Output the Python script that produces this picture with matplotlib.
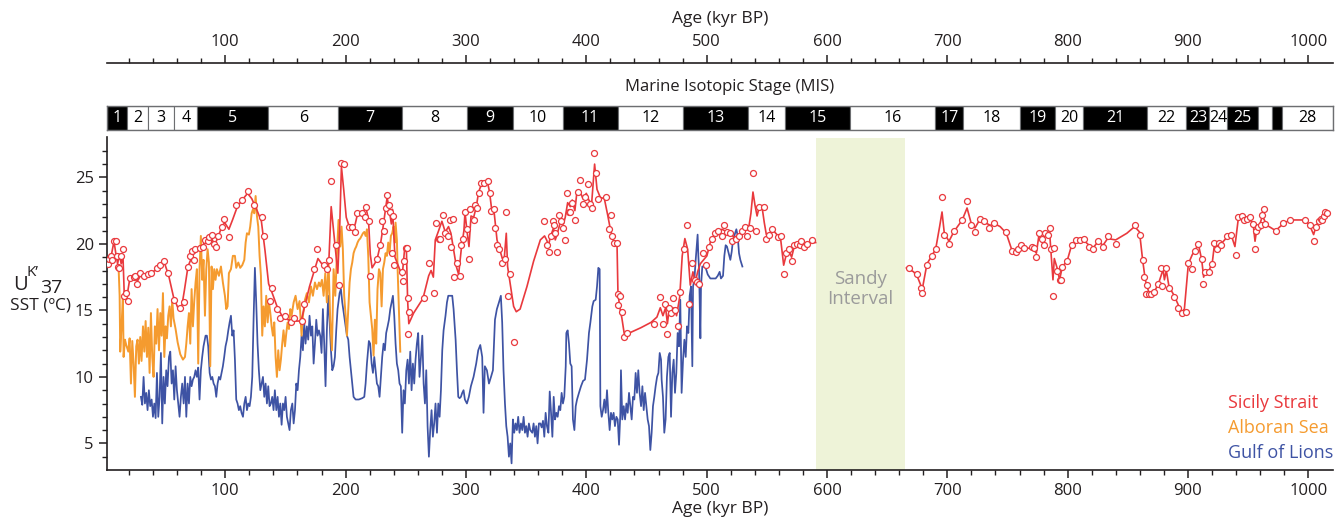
import numpy as np
import matplotlib
matplotlib.use("Agg")
import matplotlib.pyplot as plt

plt.rcParams['font.family'] = ['Open Sans', 'DejaVu Sans']

# ---- data ----
# MIS stage boundaries (kyr BP), labels and fill
mis_edges = [1.7, 18.5, 36, 57.6, 76.7, 135.7, 193.9, 247, 301, 339.3, 380.4, 426,
             480.6, 534.6, 565.4, 619.4, 690, 713.3, 760.7, 789.7, 813, 866.2,
             898.7, 917.8, 932.7, 958.5, 970, 978.4, 1020.5]
mis_labels = ['1', '2', '3', '4', '5', '6', '7', '8', '9', '10', '11', '12', '13', '14',
              '15', '16', '17', '18', '19', '20', '21', '22', '23', '24', '25', '', '', '28']
mis_black = [1, 0, 0, 0, 1, 0, 1, 0, 1, 0, 1, 0, 1, 0, 1, 0, 1, 0, 1, 0, 1, 0, 1, 0, 1, 0, 1, 0]

sandy = (591, 665)

# Sicily Strait UK'37 samples (age, SST)
sicily_pts = np.array([
    [2.2, 18.5], [3, 18.9], [5, 19.1], [5.8, 18.8], [7.2, 20.2], [8.8, 20.2], [10, 19.1], [10.5, 18.3],
    [11.6, 18.2], [13.3, 19.1], [15, 19.6], [15.5, 16.1], [17.1, 16.3], [18.8, 15.7], [20.4, 17.4],
    [23.8, 17.5], [25.2, 17.6], [26.6, 17.0], [29.3, 17.8], [32.1, 17.6], [35.4, 17.7], [38.2, 17.8],
    [43.2, 18.2], [46, 18.4], [48.7, 18.7], [52.3, 17.8], [57.6, 15.8], [62.6, 15.2], [65.3, 15.6],
    [68.6, 18.3], [70.3, 19.1], [72, 19.5], [73.6, 18.8], [74.8, 19.6], [78.6, 19.7], [81.4, 19.8],
    [83.1, 20.3], [85.3, 20.2], [86.4, 20.5], [88.6, 20.7], [90.3, 20.0], [92.5, 19.8], [94.2, 20.6],
    [96.9, 21.3], [99.1, 21.9], [103, 20.5], [109.1, 22.9], [113.5, 23.3], [118.5, 24.0], [123.5, 22.9],
    [130.7, 22.0], [131.8, 20.6], [136.8, 15.7], [138.5, 16.7], [142.9, 15.1], [145.7, 14.4],
    [149.6, 14.6], [154.6, 14.1], [157.3, 14.4], [163.4, 14.2], [165.6, 15.5], [174, 18.1], [176.2, 19.6],
    [181.7, 18.4], [184.5, 18.1], [186.2, 18.8], [188.1, 24.7], [192.2, 19.9], [194.2, 16.9],
    [196.1, 26.1], [198.3, 26.0], [202.5, 21.3], [205.3, 21.3], [207.4, 20.9], [209.4, 22.3],
    [213.6, 22.3], [215.8, 22.0], [217.2, 22.8], [219.1, 21.7], [219.9, 17.6], [226, 18.9], [228.2, 19.9],
    [230.4, 21.7], [232.1, 21.0], [233.2, 22.7], [234.4, 23.7], [235.7, 22.9], [237.1, 22.4],
    [239.3, 22.1], [238.8, 19.3], [240.4, 18.4], [246.8, 17.9], [247.6, 17.2], [248.7, 18.7],
    [249.8, 19.7], [251, 19.7], [251.5, 15.9], [252.6, 14.9], [251.5, 13.2], [265.4, 15.9], [269.3, 18.6],
    [273.1, 16.3], [274.8, 21.6], [277.3, 20.4], [278.6, 20.4], [280.6, 22.2], [282.8, 20.8],
    [284.7, 20.6], [286.4, 21.8], [289.2, 21.9], [287.8, 19.8], [290.3, 17.5], [292.5, 18.6],
    [294.7, 17.6], [296.1, 19.9], [297.5, 20.4], [298.9, 22.4], [300.8, 21.1], [302.5, 18.9],
    [303.6, 22.6], [306.4, 21.8], [307.7, 22.9], [309.1, 22.7], [310.5, 23.8], [312.5, 24.6],
    [315.2, 24.6], [318, 24.7], [319.6, 23.8], [320.8, 22.5], [323, 22.6], [324.4, 21.2], [325.8, 19.9],
    [327.1, 19.6], [329.9, 18.6], [332.7, 18.9], [333.5, 22.4], [335.2, 16.1], [336.8, 17.7],
    [339.6, 12.6], [364.5, 21.7], [367.3, 19.9], [368.7, 19.4], [370.6, 20.6], [372, 21.7], [373.4, 21.4],
    [374.2, 20.8], [375.6, 19.4], [377.3, 22.2], [379, 21.7], [380.3, 21.2], [382.3, 20.3], [384, 23.8],
    [385.6, 22.4], [386.7, 22.4], [388.3, 23.1], [390.3, 21.8], [393.3, 23.9], [395, 24.8], [396.9, 23.0],
    [398.6, 23.5], [401.4, 24.5], [403.3, 23.0], [404.9, 22.7], [406.6, 26.8], [407.7, 25.3],
    [409.4, 23.4], [416, 23.5], [418.9, 21.1], [420.5, 22.2], [421, 20.6], [423.3, 20.1], [425.5, 20.1],
    [426.6, 16.2], [427.7, 16.1], [426, 15.4], [429.3, 14.9], [431.6, 13.0], [433.8, 13.3], [456.5, 14.0],
    [461.5, 16.0], [463.7, 14.0], [465.6, 15.5], [467.1, 13.2], [468.7, 15.2], [470.4, 14.8], [472, 15.9],
    [474, 15.0], [475.9, 13.8], [478.1, 16.4], [480.9, 19.6], [483.7, 21.4], [485.3, 15.5], [488.1, 18.6],
    [490.6, 17.3], [491.9, 17.1], [493.3, 17.0], [497, 19.3], [499.7, 18.4], [501.9, 19.8], [504.1, 20.4],
    [506.9, 20.8], [509.7, 21.0], [512.4, 20.6], [514.7, 21.4], [516.9, 20.9], [519.6, 20.8],
    [521.3, 20.2], [524, 20.4], [526.9, 20.6], [529, 21.0], [531.9, 21.3], [533.5, 20.6], [535.7, 21.2],
    [538.5, 25.3], [540.7, 21.0], [543.5, 22.8], [547.3, 22.8], [549, 20.4], [551.8, 20.7], [554.5, 21.1],
    [559, 20.5], [561.8, 20.6], [564, 17.7], [565.6, 19.3], [568.4, 19.6], [570.6, 18.7], [572.8, 19.9],
    [575.1, 20.0], [577.2, 19.9], [578.4, 20.2], [580.6, 19.8], [583.4, 20.0], [587.8, 20.3],
    [668.2, 18.2], [674.8, 17.7], [678.1, 16.7], [679.2, 16.3], [683.1, 18.4], [687, 19.1], [690.3, 19.6],
    [695.6, 23.5], [697.5, 20.7], [701.4, 20.0], [705.3, 21.0], [712.4, 21.8], [716.4, 23.2], [720, 21.4],
    [723, 20.9], [726.8, 21.9], [730.7, 21.7], [734.4, 21.2], [738.5, 21.6], [749, 20.9], [753.4, 19.5],
    [756.8, 19.4], [759, 19.6], [761.2, 19.9], [764, 19.7], [770.1, 19.8], [772.3, 19.7], [774, 19.0],
    [776.2, 20.8], [778.4, 20.4], [780.6, 19.9], [781.4, 20.8], [783.3, 20.7], [785, 21.2], [786.2, 19.6],
    [787.8, 16.1], [788.9, 19.7], [791.2, 18.0], [793.3, 17.3], [794.5, 17.3], [795.6, 18.3],
    [799.5, 18.7], [803.3, 19.9], [806.6, 20.3], [810.5, 20.3], [813.8, 20.4], [817.8, 19.8],
    [821.1, 19.6], [825.5, 20.2], [829.4, 19.8], [833.2, 20.6], [839.9, 20.0], [855.6, 21.4],
    [860.4, 20.7], [862.3, 18.8], [863.7, 17.5], [865.9, 16.9], [864.8, 16.2], [867.6, 16.2],
    [869.3, 16.2], [871.5, 16.4], [875.4, 17.0], [877.6, 18.2], [881.5, 18.2], [878.7, 16.8],
    [884.2, 16.7], [888.6, 16.0], [892, 15.2], [895, 14.8], [898, 14.9], [900.3, 18.6], [903.6, 18.1],
    [905.9, 19.5], [908.6, 20.0], [911.4, 18.9], [912.5, 17.0], [914.2, 17.9], [917.5, 17.9],
    [920.2, 18.5], [921.9, 20.1], [924.1, 19.6], [925.8, 20.1], [927.5, 19.9], [932.4, 20.6],
    [935.8, 20.7], [940.2, 19.2], [941.8, 22.0], [944.6, 22.1], [946.8, 21.8], [949.1, 21.9],
    [951.2, 22.0], [954, 21.5], [955.7, 19.6], [956.8, 21.0], [958.4, 21.3], [960.7, 21.4], [961.8, 22.2],
    [962.8, 22.6], [964.3, 21.5], [972.8, 21.0], [979, 21.6], [984.5, 21.8], [997.3, 21.8], [1001.1, 21.4],
    [1005, 20.2], [1006.1, 21.3], [1008.6, 21.7], [1010.6, 21.9], [1011.6, 21.8], [1012.7, 22.1],
    [1014.1, 22.4], [1015.5, 22.3]])

# Sicily Strait smoothed curve (nan = gap at the sandy interval)
sicily_curve = np.array([
    [2, 18.7], [5, 19.0], [7.5, 20.2], [9, 19.3], [10.5, 18.5], [12, 19.2], [13.5, 18.5], [15, 19.0],
    [16, 16.3], [18, 15.9], [20.5, 17.3], [25, 17.5], [27, 17.2], [30, 17.7], [38, 17.8], [45, 18.2],
    [49, 18.7], [53, 17.6], [57, 16.0], [61, 15.1], [64, 15.4], [66, 16.5], [69, 18.3], [73, 19.2],
    [78, 19.6], [84, 20.2], [88, 20.6], [91, 19.9], [94, 20.5], [97, 21.3], [99.5, 21.6], [103, 21.1],
    [106, 21.8], [110, 22.8], [114, 23.3], [118.5, 23.8], [122, 23.4], [126, 22.6], [130, 21.7],
    [133, 19.5], [136, 17.0], [139, 16.3], [143, 15.3], [147, 14.6], [152, 14.3], [157, 14.2],
    [163, 14.2], [166, 15.3], [170, 16.8], [175, 18.3], [177, 18.9], [181, 18.4], [184, 18.0],
    [186, 18.6], [188, 22.8], [190.5, 20.5], [193.5, 17.8], [195, 21.0], [196.5, 25.8], [198.5, 24.0],
    [200.5, 22.0], [203, 21.3], [206, 21.1], [208, 21.5], [210, 22.3], [214, 22.4], [217, 22.7],
    [219, 21.8], [220.5, 19.2], [222, 18.2], [226, 18.8], [229, 20.0], [231, 21.2], [233, 22.5],
    [234.5, 23.5], [236, 22.7], [238, 21.5], [239, 22.6], [241, 19.0], [244, 18.3], [247, 17.6],
    [249, 19.6], [250.5, 19.6], [251.5, 15.8], [252.5, 14.0], [256.5, 14.8], [264.3, 15.9], [269, 17.6],
    [271, 18.0], [272.9, 17.5], [274.5, 20.3], [277.3, 21.0], [280, 21.7], [282.8, 20.9], [285.5, 21.3],
    [287.5, 20.8], [289.7, 19.6], [292, 18.3], [293.9, 17.7], [296.1, 19.6], [298.3, 21.0],
    [299.2, 22.4], [300.8, 21.0], [302.5, 19.8], [304.2, 22.1], [306.4, 22.0], [308.6, 22.8],
    [310.5, 23.9], [312.5, 24.4], [316, 24.6], [318, 24.6], [319.6, 23.9], [321.6, 22.4], [323.5, 22.3],
    [325.8, 20.3], [328, 19.6], [330.2, 18.9], [331.9, 19.0], [333.5, 20.8], [334.6, 18.3],
    [337.4, 16.6], [339.6, 15.3], [341.8, 14.9], [345, 15.1], [350.7, 16.8], [356.2, 18.7],
    [361.8, 20.3], [365.3, 20.6], [367, 20.3], [368.7, 19.9], [370, 20.5], [372.8, 21.2], [374.2, 20.3],
    [376, 20.8], [378.3, 21.6], [381, 21.5], [382.5, 22.0], [384.5, 23.1], [386.7, 22.8], [388.3, 23.3],
    [390.5, 22.5], [392.2, 23.9], [395, 23.9], [397.2, 23.4], [400, 23.8], [402.1, 23.3], [404.4, 23.0],
    [406.9, 26.0], [408.9, 24.1], [411.6, 23.5], [415, 23.4], [417.7, 22.2], [420, 21.1], [422.7, 20.2],
    [425.5, 20.1], [426.3, 16.3], [427.7, 15.3], [429.6, 14.4], [431.6, 13.2], [435.7, 13.3],
    [445.4, 13.7], [453.8, 14.1], [458.7, 14.5], [461.5, 15.2], [463.7, 14.6], [465.9, 15.2],
    [467.4, 14.0], [469, 15.2], [471, 14.8], [472.9, 15.2], [475, 14.6], [477.6, 16.0], [479.7, 19.1],
    [481.9, 20.4], [484.2, 19.6], [486.4, 16.9], [488.6, 17.9], [490.6, 17.1], [492.5, 17.9],
    [494.7, 18.5], [497.5, 18.8], [500.2, 19.1], [503, 20.1], [505.8, 20.6], [509.1, 20.8],
    [512.7, 21.1], [516.9, 20.9], [520.2, 20.8], [522.4, 20.5], [525.7, 20.6], [529, 20.9],
    [532.1, 21.0], [534.8, 21.1], [536.8, 22.3], [538.5, 23.9], [540.2, 22.9], [541.9, 22.1],
    [543.5, 22.7], [546, 22.8], [547.9, 21.6], [549.6, 20.7], [551.8, 20.6], [554.5, 21.1],
    [558.4, 20.7], [561.2, 20.6], [564, 18.4], [566.2, 19.2], [568.4, 19.5], [570.6, 19.0],
    [572.8, 19.8], [577.8, 20.0], [582, 19.9], [586.1, 20.1], [590.6, 20.1], [np.nan, np.nan],
    [666, 18.2], [672, 17.9], [675.3, 17.5], [679.2, 16.6], [683.1, 18.5], [687, 19.1], [690.3, 19.6],
    [693.6, 21.3], [695.6, 22.4], [697.5, 20.8], [701.4, 20.2], [705.3, 20.9], [712.4, 21.8],
    [716.4, 22.7], [720, 21.5], [723, 21.2], [726.8, 21.8], [731.5, 21.6], [735.6, 21.4], [739.7, 21.5],
    [743.9, 21.3], [749, 20.8], [753.4, 19.6], [758, 19.5], [761.2, 19.7], [766.2, 19.7], [771.6, 19.6],
    [774, 19.3], [776.2, 20.7], [778.4, 20.3], [780.6, 20.5], [782.8, 20.8], [785, 20.9], [786.2, 19.3],
    [787.8, 17.3], [788.9, 18.9], [791.2, 18.2], [793.3, 17.3], [795.6, 18.3], [799.5, 18.7],
    [803.3, 19.9], [806.6, 20.3], [811.8, 20.4], [817.8, 19.9], [821.1, 19.7], [825.5, 20.2],
    [829.4, 19.9], [833.2, 20.4], [839.9, 20.3], [849.2, 20.8], [855.6, 21.3], [859.7, 20.9],
    [862.3, 18.8], [864.5, 17.3], [867.3, 16.4], [869.3, 16.3], [872, 16.4], [875.4, 17.0],
    [877.6, 17.6], [879.3, 18.1], [880.4, 17.3], [882, 18.0], [884.2, 16.8], [888.6, 16.1], [892, 15.4],
    [895, 14.9], [897, 15.1], [900.3, 18.5], [903.6, 19.2], [905.9, 19.5], [908.6, 20.0], [911.4, 18.8],
    [913, 17.5], [914.8, 18.0], [917.5, 18.0], [920.2, 18.6], [921.9, 19.9], [924.1, 19.8],
    [927.5, 20.0], [932.4, 20.5], [935.8, 20.7], [939, 19.8], [941.8, 21.9], [946.2, 21.9],
    [950.4, 21.9], [954, 21.6], [955.7, 20.2], [957.3, 21.2], [959.5, 21.4], [961.8, 22.1],
    [963.4, 21.8], [965.6, 21.4], [972.8, 21.0], [979, 21.5], [984.5, 21.8], [997.3, 21.8],
    [1001.1, 21.4], [1004.4, 20.7], [1006.7, 21.4], [1009.4, 21.8], [1012.2, 21.9], [1015.5, 22.3]])

# Alboran Sea
alboran = np.array([
    [11.3, 18.3], [12.2, 16.1], [12.7, 11.9], [13.8, 13.8], [14.9, 16.1], [15.5, 11.5], [16.6, 12.8],
    [17.7, 12.4], [19.4, 11.9], [20.5, 12.9], [21.6, 9.5], [22.7, 12.7], [23.8, 11.0], [24.9, 8.5],
    [26, 12.3], [27.1, 12.8], [28.2, 11.0], [29.3, 13.0], [30.4, 11.2], [31.6, 13.8], [32.7, 11.9],
    [33.8, 14.2], [34.9, 11.5], [36, 13.7], [37.1, 10.3], [38.2, 14.8], [39.3, 11.5], [40.4, 10.0],
    [41.5, 13.8], [42.6, 12.5], [43.7, 15.1], [44.9, 12.0], [46, 14.8], [47.1, 13.1], [48.2, 16.3],
    [49.3, 11.5], [50.4, 13.8], [51.5, 12.9], [52.6, 14.6], [53.7, 15.3], [54.8, 13.8], [55.9, 15.8],
    [57, 14.4], [58.7, 13.6], [60.4, 12.6], [62.6, 11.7], [64.8, 11.3], [66.5, 11.5], [67.6, 12.5],
    [68.7, 13.8], [69.8, 14.8], [70.9, 12.5], [72, 16.6], [73.1, 13.8], [74.2, 15.7], [75.3, 17.1],
    [76.4, 18.1], [77.5, 11.0], [78.6, 18.1], [79.7, 20.6], [80.8, 17.3], [81.9, 18.8], [83.1, 14.6],
    [84.2, 18.1], [85.3, 19.6], [86.4, 18.6], [87.5, 10.8], [88.6, 18.3], [89.7, 16.6], [90.8, 18.1],
    [91.9, 17.3], [93.0, 18.1], [94.7, 17.6], [96.4, 18.3], [98.0, 17.1], [99.7, 16.1], [100.8, 15.1],
    [101.9, 15.3], [103, 17.8], [104.7, 18.1], [106.3, 19.1], [108, 19.1], [109.1, 18.2], [110.8, 18.6],
    [112.4, 18.2], [114.1, 18.4], [115.8, 18.8], [116.9, 20.1], [118, 20.8], [119.6, 20.7],
    [120.7, 21.3], [121.9, 22.3], [123, 22.6], [124.1, 22.3], [125.2, 23.6], [126.3, 22.1],
    [127.4, 21.3], [128.5, 19.1], [129.6, 17.6], [130.7, 13.1], [131.8, 15.3], [132.9, 13.8],
    [134.0, 16.1], [135.2, 14.1], [136.3, 15.6], [137.4, 14.8], [138.5, 13.8], [139.6, 13.1],
    [140.7, 14.1], [141.8, 11.5], [142.9, 10.0], [144, 12.0], [145.1, 10.5], [146.2, 11.3],
    [147.3, 12.5], [148.4, 13.5], [149.6, 12.3], [150.7, 13.3], [151.8, 14.1], [152.9, 13.6],
    [154, 15.1], [155.1, 14.6], [156.8, 15.6], [158.4, 16.1], [160.1, 15.1], [161.7, 15.7],
    [163.4, 13.1], [164.5, 14.6], [166.2, 15.8], [167.8, 16.3], [169.5, 15.6], [171.2, 16.8],
    [172.8, 16.1], [174.5, 17.1], [176.2, 16.6], [177.8, 17.1], [178.9, 16.8], [180.3, 17.3],
    [181.7, 16.1], [183.1, 17.8], [184.4, 15.6], [185.8, 18.6], [187.2, 14.3], [188.6, 12.0],
    [190, 18.1], [191.4, 16.1], [192.8, 19.3], [194.1, 21.8], [195.5, 19.8], [196.6, 21.3],
    [197.7, 19.6], [198.8, 16.1], [200, 14.6], [201.1, 13.1], [202.2, 15.1], [203.3, 17.1],
    [204.4, 18.1], [205.5, 18.6], [206.6, 19.3], [207.7, 19.6], [208.8, 19.8], [209.9, 20.1],
    [211, 20.3], [212.1, 20.4], [213.2, 20.6], [214.4, 20.8], [215.5, 20.9], [216.6, 20.6],
    [217.7, 21.1], [218.8, 19.1], [219.9, 15.6], [221, 14.6], [222.1, 13.6], [223.2, 11.6],
    [224.3, 14.3], [225.4, 12.5], [226.5, 16.6], [227.7, 18.1], [228.8, 17.8], [229.9, 15.3],
    [231, 18.1], [232.1, 18.6], [233.2, 19.3], [234.3, 19.1], [235.4, 20.1], [236.5, 19.3],
    [237.6, 20.6], [238.7, 20.8], [239.8, 21.3], [240.9, 20.1], [241.5, 21.6], [242.6, 20.3],
    [243.2, 18.1], [244.3, 15.1], [245.4, 11.9]])

# Gulf of Lions
lions = np.array([
    [29.9, 8.5], [31, 7.9], [32.1, 10.0], [33.2, 8.0], [34.3, 8.8], [35.4, 7.5], [36.5, 9.0], [37.6, 7.8],
    [38.8, 8.3], [39.9, 7.0], [41, 8.0], [42.1, 6.9], [43.2, 10.3], [44.3, 7.0], [45.4, 8.5], [46.5, 11.8],
    [47.6, 6.5], [48.7, 10.0], [49.8, 8.0], [50.9, 10.5], [52, 9.3], [53.2, 11.5], [54.3, 11.9],
    [55.4, 9.5], [56.5, 10.5], [57.6, 8.3], [58.7, 10.8], [59.8, 9.0], [60.9, 8.0], [62.0, 7.0],
    [63.1, 8.5], [64.2, 9.5], [65.4, 8.0], [66.5, 10.0], [67.6, 7.0], [68.7, 9.5], [69.8, 8.0],
    [70.9, 10.0], [72, 9.3], [73.1, 9.8], [74.2, 10.0], [75.3, 10.5], [76.4, 10.0], [77.5, 10.7],
    [78.6, 8.3], [79.7, 10.5], [80.8, 11.5], [81.9, 12.3], [83.6, 13.1], [84.7, 13.1], [85.8, 12.3],
    [87, 10.3], [88.1, 9.8], [89.2, 10.0], [90.3, 9.5], [91.4, 9.3], [92.5, 8.5], [93.6, 9.5],
    [94.7, 10.0], [95.8, 9.8], [96.9, 10.3], [98, 10.8], [99.1, 11.5], [100.2, 12.3], [101.4, 12.8],
    [102.5, 13.5], [103.6, 14.1], [104.7, 14.6], [105.8, 13.1], [106.9, 13.5], [108, 11.3], [109.1, 8.3],
    [110.2, 8.0], [111.3, 7.5], [112.4, 7.8], [113.5, 7.3], [114.7, 7.0], [115.8, 8.0], [116.9, 8.5],
    [118, 7.5], [119.1, 8.0], [120.2, 7.8], [121.3, 8.5], [122.4, 10.0], [123.5, 14.3], [124.6, 18.2],
    [125.7, 15.6], [126.8, 12.5], [127.9, 10.5], [129.1, 9.0], [130.2, 9.5], [131.3, 10.0], [132.4, 8.5],
    [133.5, 9.5], [134.6, 8.0], [135.7, 9.3], [136.8, 7.8], [137.9, 8.0], [139, 8.5], [140.1, 7.5],
    [141.2, 9.0], [142.4, 7.5], [143.5, 8.5], [144.6, 7.0], [145.7, 8.0], [146.8, 6.4], [147.9, 8.0],
    [149, 7.5], [150.1, 8.5], [151.2, 7.0], [152.3, 6.5], [153.4, 6.0], [154.5, 7.5], [155.7, 8.0],
    [156.8, 6.5], [157.9, 7.5], [159, 9.5], [160.1, 9.0], [161.2, 10.5], [162.3, 11.5], [163.4, 13.1],
    [164.5, 12.0], [165.6, 14.1], [166.7, 12.5], [167.8, 13.8], [168.9, 12.8], [170, 14.6], [171.2, 13.1],
    [172.3, 13.8], [173.4, 11.0], [174.5, 12.5], [175.6, 14.3], [176.7, 13.1], [177.8, 13.5],
    [178.9, 13.1], [180, 11.8], [181.1, 15.1], [182.2, 12.5], [183.3, 9.3], [184.4, 13.5], [185.5, 16.1],
    [186.7, 14.1], [187.8, 12.0], [188.9, 10.5], [190, 10.8], [191.1, 11.5], [192.2, 13.5], [193.3, 15.1],
    [195, 16.3], [196.1, 16.6], [197.2, 15.6], [198.8, 14.6], [200, 13.8], [201.1, 13.1], [202.2, 12.8],
    [203.3, 11.5], [204.4, 10.5], [205.5, 9.5], [206.6, 8.5], [208.3, 8.3], [211, 8.3], [213.8, 8.4],
    [215.5, 8.5], [216.6, 9.5], [217.7, 11.0], [219.3, 12.7], [220.4, 12.5], [221.6, 11.0], [222.7, 10.3],
    [223.8, 11.5], [224.9, 10.5], [226, 9.5], [227.1, 9.3], [228.2, 8.5], [229.3, 10.0], [230.4, 11.5],
    [231.5, 12.5], [232.6, 12.0], [233.7, 13.3], [234.9, 13.8], [236, 14.3], [237.1, 15.1], [238.2, 15.6],
    [239.3, 16.1], [240.4, 14.6], [241.5, 12.5], [242.6, 11.0], [243.7, 10.5], [244.8, 9.5], [245.9, 9.3],
    [247, 5.8], [248.1, 9.0], [249.2, 8.0], [250.4, 10.5], [251.5, 11.3], [252.6, 9.5], [253.7, 11.9],
    [254.8, 9.0], [255.9, 11.0], [257, 9.5], [258.1, 11.3], [259.2, 12.5], [260.3, 13.3], [261.4, 10.0],
    [262.6, 11.5], [263.7, 13.1], [264.8, 9.5], [265.9, 8.0], [267, 10.5], [268.1, 6.3], [269.2, 4.0],
    [270.3, 6.0], [271.4, 7.5], [272.5, 5.5], [273.6, 6.5], [274.7, 8.0], [275.9, 5.8], [277, 8.0],
    [278.1, 7.0], [279.2, 9.0], [280.3, 12.0], [281.4, 13.5], [283, 14.6], [284.2, 15.6], [285.3, 16.1],
    [286.9, 16.1], [288.6, 16.1], [289.7, 15.1], [291.4, 12.8], [292.5, 10.5], [293.6, 8.5], [294.7, 8.4],
    [295.8, 8.5], [296.9, 8.8], [298, 9.0], [299.1, 8.3], [300.8, 8.0], [302.4, 8.5], [304.1, 9.3],
    [306.3, 10.0], [308.5, 11.0], [310.2, 12.0], [311.9, 12.4], [313.5, 11.5], [314.6, 7.3],
    [315.7, 10.8], [317.4, 10.5], [319.1, 9.5], [320.8, 10.0], [322.4, 10.5], [324.1, 14.3],
    [325.7, 15.1], [327.4, 15.6], [329, 16.1], [330.1, 14.1], [331.2, 10.5], [332.4, 8.0], [333.5, 6.3],
    [334.6, 5.5], [335.7, 4.0], [336.8, 5.0], [337.9, 3.5], [339, 6.8], [340.1, 5.8], [341.2, 6.5],
    [342.3, 6.0], [343.4, 7.0], [344.5, 5.8], [345.7, 6.5], [346.8, 6.0], [347.9, 7.0], [349, 5.8],
    [350.1, 6.3], [351.2, 5.5], [352.3, 6.5], [353.4, 6.0], [355.1, 5.8], [356.2, 6.5], [357.3, 5.5],
    [358.4, 6.3], [359.5, 5.0], [360.6, 6.5], [361.8, 6.5], [362.9, 6.2], [364, 6.7], [365.1, 5.5],
    [366.2, 7.3], [367.3, 6.3], [368.5, 5.8], [369.6, 8.9], [370.7, 7.3], [371.8, 5.5], [372.9, 8.5],
    [374, 6.8], [375.1, 7.3], [376.2, 7.0], [377.3, 7.8], [378.4, 7.5], [379.5, 8.8], [380.6, 8.0],
    [381.7, 8.5], [382.9, 10.8], [383.4, 13.3], [384.5, 13.5], [385.6, 12.5], [386.7, 11.0],
    [387.8, 10.8], [388.9, 6.8], [390.1, 6.0], [391.2, 7.8], [392.3, 8.3], [393.9, 8.8], [395.6, 9.3],
    [397.3, 9.7], [398.9, 9.8], [400.6, 11.3], [402.2, 13.3], [403.4, 14.1], [405, 15.3], [406.1, 15.7],
    [407.8, 15.8], [408.9, 16.8], [410, 18.2], [411.1, 18.1], [411.7, 7.8], [412.8, 7.0], [413.9, 7.5],
    [415, 8.3], [416.1, 7.3], [417.2, 9.0], [418.3, 7.3], [419.4, 6.0], [420.5, 7.3], [421.6, 6.8],
    [422.7, 7.3], [423.8, 6.3], [425, 7.0], [426.1, 6.8], [427.2, 4.9], [428.3, 7.3], [428.8, 10.5],
    [429.9, 6.8], [431.1, 7.8], [432.2, 6.8], [433.3, 8.0], [434.4, 7.3], [435.5, 8.8], [436.6, 7.8],
    [437.7, 6.8], [438.8, 8.5], [439.9, 8.3], [441, 10.3], [442.1, 8.8], [443.2, 10.5], [444.3, 8.8],
    [445.5, 7.8], [446.6, 9.3], [447.7, 7.5], [448.8, 8.8], [449.9, 7.8], [451, 6.8], [452.1, 6.3],
    [453.2, 4.5], [454.3, 5.8], [455.4, 7.8], [456.5, 8.5], [457.6, 9.3], [458.8, 10.0], [459.9, 10.3],
    [461, 11.8], [462.1, 11.3], [462.6, 9.8], [463.7, 8.5], [464.8, 5.8], [465.9, 6.8], [467, 10.0],
    [468.2, 11.5], [469.3, 11.8], [470.4, 7.0], [471.5, 10.3], [472.6, 11.3], [473.7, 8.8], [474.8, 10.3],
    [475.9, 13.3], [477, 12.3], [478.1, 15.8], [479.2, 8.8], [480.4, 11.3], [481.5, 12.8], [482.6, 11.5],
    [483.7, 13.8], [484.8, 13.3], [485.9, 16.1], [487, 16.8], [488.1, 10.8], [488.7, 16.8], [489.8, 17.3],
    [490.9, 18.8], [492, 20.1], [492.5, 20.7], [493.1, 19.1], [493.7, 18.1], [494.8, 12.9], [495.3, 16.8],
    [496.4, 18.3], [497.5, 18.3], [499.2, 18.2], [500.9, 17.7], [503.1, 17.4], [505.3, 17.4],
    [507.5, 17.4], [509.2, 17.6], [510.8, 17.9], [511.9, 17.4], [513.6, 17.6], [514.7, 19.1],
    [515.8, 19.9], [516.9, 19.8], [518, 19.4], [519.7, 18.8], [520.8, 19.4], [521.9, 20.3],
    [523.6, 20.8], [524.7, 21.1], [525.8, 20.6], [526.9, 19.3], [528, 18.8], [529.7, 18.3]])

legend_names = ['Sicily Strait', 'Alboran Sea', 'Gulf of Lions']
c_red = '#e9393d'
c_orange = '#f59b2f'
c_blue = '#3e53a4'
ink = '#231f20'

W, H = 1341, 518
fig = plt.figure(figsize=(W / 100, H / 100), dpi=100)
xlim = (1.7, 1020.5)

# main axes
ax = fig.add_axes([107 / W, 1 - 470 / H, 1226 / W, 332.5 / H])
ax.axvspan(sandy[0], sandy[1], color='#eef3d8', lw=0, zorder=0)
ax.text(sum(sandy) / 2, 16.6, 'Sandy\nInterval', ha='center', va='center',
        color='#9b9b9b', fontsize=13.5, linespacing=1.15)
ax.plot(lions[:, 0], lions[:, 1], color=c_blue, lw=1.25, zorder=2)
ax.plot(alboran[:, 0], alboran[:, 1], color=c_orange, lw=1.4, zorder=3)
ax.plot(sicily_curve[:, 0], sicily_curve[:, 1], color=c_red, lw=1.2, zorder=4)
ax.plot(sicily_pts[:, 0], sicily_pts[:, 1], ls='none', marker='o', ms=4.3, mfc='white',
        mec=c_red, mew=0.9, zorder=5)
ax.set_xlim(*xlim)
ax.set_ylim(3, 28)
for s in ['top', 'right']:
    ax.spines[s].set_visible(False)
for s in ['left', 'bottom']:
    ax.spines[s].set_color(ink)
    ax.spines[s].set_linewidth(1.2)
ax.set_xticks(np.arange(100, 1001, 100))
ax.set_xticks(np.arange(20, 1020, 20), minor=True)
ax.set_yticks([5, 10, 15, 20, 25])
ax.set_yticks(np.arange(4, 28, 1), minor=True)
ax.tick_params(which='major', length=6, width=1.1, color=ink, labelsize=12, labelcolor=ink)
ax.tick_params(which='minor', length=3.5, width=1.0, color=ink)
ax.set_xlabel('Age (kyr BP)', fontsize=12.5, color=ink, labelpad=1)

# legend as coloured words
for i, (name, c) in enumerate(zip(legend_names, [c_red, c_orange, c_blue])):
    fig.text(1228 / W, 1 - (403 + 25 * i) / H, name, color=c, fontsize=13, ha='left', va='center')

# y label
fig.text(13 / W, 1 - 285 / H, 'U', fontsize=14.5, color=ink, ha='left', va='center')
fig.text(27 / W, 1 - 273 / H, "K\u2019", fontsize=11, color=ink, ha='left', va='center')
fig.text(40 / W, 1 - 288 / H, '37', fontsize=14, color=ink, ha='left', va='center')
fig.text(40 / W, 1 - 306 / H, 'SST (\u00baC)', fontsize=12.5, color=ink, ha='center', va='center')

# MIS band
axm = fig.add_axes([107 / W, 1 - 130 / H, 1226 / W, 24 / H])
for i in range(len(mis_labels)):
    x0, x1 = mis_edges[i], mis_edges[i + 1]
    fc = 'black' if mis_black[i] else 'white'
    axm.bar(x0, 1, width=x1 - x0, align='edge', color=fc, edgecolor='#6d6e71', lw=0.8)
    axm.text((x0 + x1) / 2, 0.48, mis_labels[i], ha='center', va='center', fontsize=11.5,
             color='white' if mis_black[i] else 'black')
axm.set_xlim(*xlim)
axm.set_ylim(0, 1)
axm.set_xticks([])
axm.set_yticks([])
for s in axm.spines.values():
    s.set_color('#6d6e71')
    s.set_linewidth(1.0)
fig.text(730 / W, 1 - 87 / H, 'Marine Isotopic Stage (MIS)', ha='center', va='center',
         fontsize=12, color=ink)

# top age axis
axt = fig.add_axes([107 / W, 1 - 63 / H, 1226 / W, 0.0001])
axt.patch.set_visible(False)
axt.set_xlim(*xlim)
axt.set_yticks([])
for s in ['bottom', 'left', 'right']:
    axt.spines[s].set_visible(False)
axt.spines['top'].set_color(ink)
axt.spines['top'].set_linewidth(1.2)
axt.xaxis.tick_top()
axt.set_xticks(np.arange(100, 1001, 100))
axt.set_xticks(np.arange(20, 1020, 20), minor=True)
axt.tick_params(which='major', length=6, width=1.1, color=ink, labelsize=12, labelcolor=ink, pad=3)
axt.tick_params(which='minor', length=3.5, width=1.0, color=ink)
fig.text(720 / W, 1 - 19 / H, 'Age (kyr BP)', ha='center', va='center', fontsize=12.5, color=ink)

fig.savefig('out.png', dpi=100)
